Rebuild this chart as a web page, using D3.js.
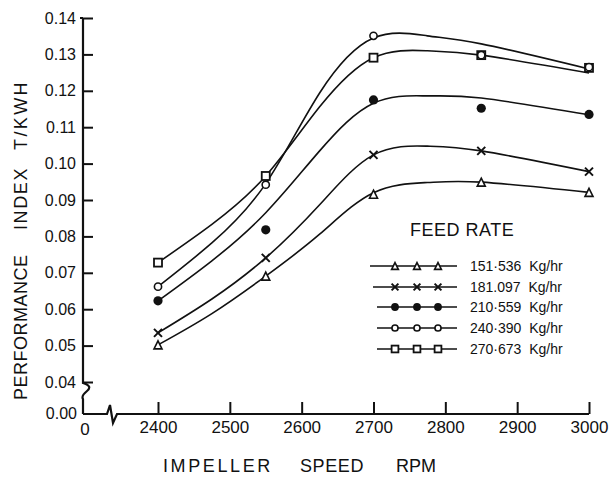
<!DOCTYPE html>
<html>
<head>
<meta charset="utf-8">
<script src="https://cdn.jsdelivr.net/npm/d3@7"></script>
<style>
  body { margin: 0; background: #fff; }
  svg { display: block; }
  text { font-family: "Liberation Sans", Arial, sans-serif; fill: #111; }
</style>
</head>
<body>
<svg></svg>
<script>
var width = 610, height = 488;

// measured points (markers)
var rpm = [2400, 2550, 2700, 2850, 3000];
var feed151 = [0.0502, 0.0691, 0.0916, 0.0949, 0.0921];
var feed181 = [0.0535, 0.0741, 0.1024, 0.1035, 0.0978];
var feed210 = [0.0623, 0.0818, 0.1175, 0.1152, 0.1135];
var feed240 = [0.0662, 0.0942, 0.1351, 0.1298, 0.1265];
var feed270 = [0.0728, 0.0966, 0.1291, 0.1298, 0.1263];

// hand-fitted curves
var fitRpm = [2400, 2475, 2550, 2625, 2700, 2775, 2850, 3000];
var fit151 = [0.0502, 0.0588, 0.0691, 0.0806, 0.0920, 0.0948, 0.0949, 0.0921];
var fit181 = [0.0535, 0.0628, 0.0741, 0.0887, 0.1024, 0.1048, 0.1035, 0.0978];
var fit210 = [0.0623, 0.0733, 0.0865, 0.1035, 0.1166, 0.1186, 0.1180, 0.1134];
var fit240 = [0.0662, 0.0782, 0.0945, 0.1194, 0.1345, 0.1351, 0.1329, 0.1260];
var fit270 = [0.0728, 0.0833, 0.0966, 0.1156, 0.1291, 0.1310, 0.1298, 0.1249];

var legendLabels = ["151·536  Kg/hr", "181.097  Kg/hr", "210·559  Kg/hr", "240·390  Kg/hr", "270·673  Kg/hr"];
var symbols = ["triangle", "cross", "dot", "circle", "square"];
var yTicks = [0.04, 0.05, 0.06, 0.07, 0.08, 0.09, 0.10, 0.11, 0.12, 0.13, 0.14];
var xTicks = [2400, 2500, 2600, 2700, 2800, 2900, 3000];

var series = [
  {pts: feed151, fit: fit151},
  {pts: feed181, fit: fit181},
  {pts: feed210, fit: fit210},
  {pts: feed240, fit: fit240},
  {pts: feed270, fit: fit270}
];

var svg = d3.select("svg").attr("width", width).attr("height", height);

var originX = 83, baseY = 414;
var x = d3.scaleLinear().domain([2400, 3000]).range([158, 589]);
var y = d3.scaleLinear().domain([0.04, 0.14]).range([382, 18]);

var ink = "#111";

// y axis
var yAxis = svg.append("g")
    .attr("transform", "translate(" + originX + ",0)")
    .call(d3.axisLeft(y).tickValues(yTicks).tickSize(-10).tickPadding(7)
      .tickFormat(d3.format(".2f")));
yAxis.select(".domain").remove();
yAxis.selectAll(".tick line").attr("stroke", ink).attr("stroke-width", 2);
yAxis.selectAll(".tick text").style("font-size", "16px");
yAxis.append("line").attr("x1", -3).attr("x2", 0)
    .attr("y1", y(0.14)).attr("y2", y(0.14)).attr("stroke", ink).attr("stroke-width", 2);

// x axis
var xAxis = svg.append("g")
    .attr("transform", "translate(0," + baseY + ")")
    .call(d3.axisBottom(x).tickValues(xTicks).tickSize(-12).tickPadding(7)
      .tickFormat(d3.format("d")));
xAxis.select(".domain").remove();
xAxis.selectAll(".tick line").attr("stroke", ink).attr("stroke-width", 2);
xAxis.selectAll(".tick text").style("font-size", "17px");

// axis lines with breaks
var yb = y(0.04);
svg.append("path")
    .attr("d", "M" + originX + "," + y(0.14) + "V" + (yb + 1) +
      "Q" + (originX + 10) + "," + (yb + 4) + " " + (originX + 4) + "," + (yb + 9) +
      "T" + originX + "," + (yb + 17) + "V" + baseY)
    .attr("fill", "none").attr("stroke", ink).attr("stroke-width", 2.2);
svg.append("path")
    .attr("d", "M" + originX + "," + baseY + "H" + (originX + 24) +
      "L" + (originX + 27) + "," + (baseY - 9) + "L" + (originX + 30) + "," + (baseY + 9) +
      "L" + (originX + 34) + "," + baseY + "H" + x(3000))
    .attr("fill", "none").attr("stroke", ink).attr("stroke-width", 2.2);

svg.append("text").attr("x", originX - 6).attr("y", baseY + 5)
    .attr("text-anchor", "end").style("font-size", "16px").text("0.00");
svg.append("text").attr("x", originX + 2).attr("y", baseY + 21)
    .attr("text-anchor", "middle").style("font-size", "17px").text("0");

// axis titles
var xt = [["IMPELLER", 163, 2.6], ["SPEED", 300, 0.6], ["RPM", 396, 0]];
xt.forEach(function(t) {
  svg.append("text").attr("x", t[1]).attr("y", 472)
     .style("font-size", "18px").style("letter-spacing", t[2] + "px").text(t[0]);
});
var yt = [["PERFORMANCE", 400, 0.5], ["INDEX", 230, 1.6], ["T/KWH", 150, 2.4]];
yt.forEach(function(t) {
  svg.append("text").attr("transform", "translate(27," + t[1] + ") rotate(-90)")
     .style("font-size", "18px").style("letter-spacing", t[2] + "px").text(t[0]);
});

// curves
var line = d3.line()
    .x(function(d) { return x(d[0]); })
    .y(function(d) { return y(d[1]); })
    .curve(d3.curveNatural);

series.forEach(function(s) {
  svg.append("path")
     .attr("d", line(fitRpm.map(function(r, i) { return [r, s.fit[i]]; })))
     .attr("fill", "none").attr("stroke", ink).attr("stroke-width", 1.6);
});

function marker(g, type, cx, cy, k) {
  if (type === "triangle") {
    var h = 8 * k;
    g.append("path").attr("d", "M" + cx + "," + (cy - h / 2) + "L" + (cx + h / 2) + "," + (cy + h / 2) +
        "L" + (cx - h / 2) + "," + (cy + h / 2) + "Z")
     .attr("fill", "#fff").attr("stroke", ink).attr("stroke-width", 1.6);
  } else if (type === "cross") {
    var c = 4 * k;
    g.append("path").attr("d", "M" + (cx - c) + "," + (cy - c) + "L" + (cx + c) + "," + (cy + c) +
        "M" + (cx - c) + "," + (cy + c) + "L" + (cx + c) + "," + (cy - c))
     .attr("stroke", ink).attr("stroke-width", 2);
  } else if (type === "dot") {
    g.append("circle").attr("cx", cx).attr("cy", cy).attr("r", 4.6 * k).attr("fill", ink);
  } else if (type === "circle") {
    g.append("circle").attr("cx", cx).attr("cy", cy).attr("r", 3.6 * k)
     .attr("fill", "#fff").attr("stroke", ink).attr("stroke-width", 1.6);
  } else {
    var q = 4 * k;
    g.append("rect").attr("x", cx - q).attr("y", cy - q).attr("width", 2 * q).attr("height", 2 * q)
     .attr("fill", "#fff").attr("stroke", ink).attr("stroke-width", 1.8);
  }
}

// markers: draw squares before circles so coincident points show both
var order = [0, 1, 2, 4, 3];
order.forEach(function(si) {
  var g = svg.append("g");
  series[si].pts.forEach(function(v, i) {
    marker(g, symbols[si], x(rpm[i]), y(v), 1);
  });
});

// legend
var lg = svg.append("g");
lg.append("text").attr("x", 410).attr("y", 236).style("font-size", "18px")
  .style("letter-spacing", "0.5px").text("FEED  RATE");
var rowY = [266, 287, 307, 328, 349];
var lineStart = [370, 373, 377, 377, 377];
legendLabels.forEach(function(lab, i) {
  lg.append("line").attr("x1", lineStart[i]).attr("x2", 457)
    .attr("y1", rowY[i]).attr("y2", rowY[i]).attr("stroke", ink).attr("stroke-width", 1.5);
  [395, 417, 438].forEach(function(mx) {
    marker(lg, symbols[i], mx, rowY[i], 0.85);
  });
  lg.append("text").attr("x", 470).attr("y", rowY[i] + 5)
    .style("font-size", "14px").style("white-space", "pre").text(lab);
});
</script>
</body>
</html>
